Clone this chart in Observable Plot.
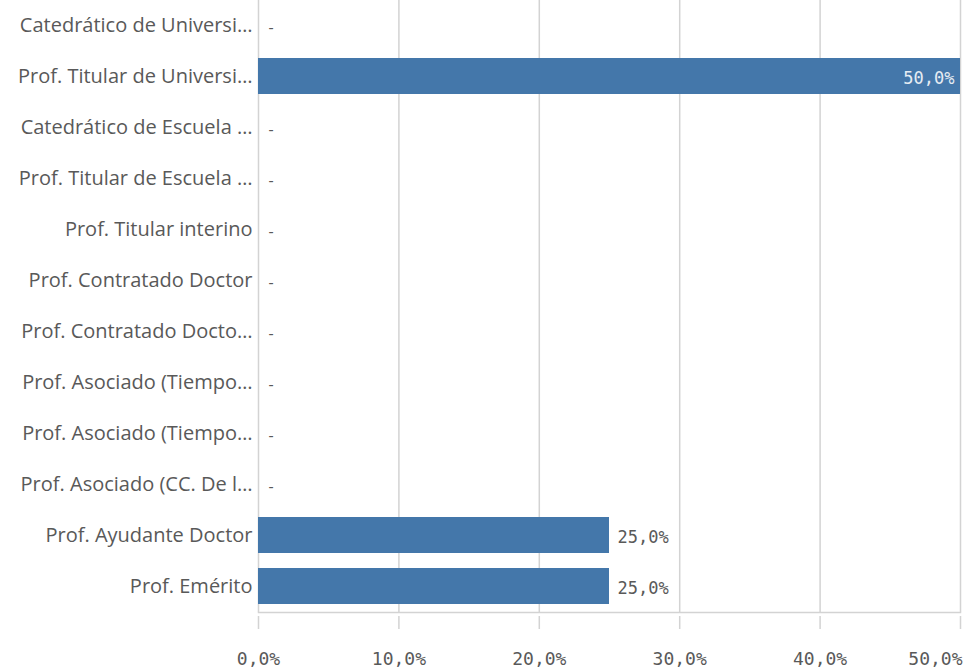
<!DOCTYPE html>
<html>
<head>
<meta charset="utf-8">
<script src="https://cdn.jsdelivr.net/npm/d3@7"></script>
<script src="https://cdn.jsdelivr.net/npm/@observablehq/plot@0.6"></script>
<style>
  html, body { margin: 0; padding: 0; background: #fff; }
  #chart svg { display: block; }
</style>
</head>
<body>
<div id="chart"></div>
<script>
const categories = [
  "Catedrático de Universi…",
  "Prof. Titular de Universi…",
  "Catedrático de Escuela …",
  "Prof. Titular de Escuela …",
  "Prof. Titular interino",
  "Prof. Contratado Doctor",
  "Prof. Contratado Docto…",
  "Prof. Asociado (Tiempo…",
  "Prof. Asociado (Tiempo…",
  "Prof. Asociado (CC. De l…",
  "Prof. Ayudante Doctor",
  "Prof. Emérito"
];
const values = [0, 0.5, 0, 0, 0, 0, 0, 0, 0, 0, 0.25, 0.25];
const xTicks = [0, 0.1, 0.2, 0.3, 0.4, 0.5];

const data = categories.map((c, i) => ({i, cat: c, v: values[i]}));
const fmt = v => d3.format(".1%")(v).replace(".", ",");
const maxV = 0.5;
const grey = "#595959";
const barColor = "#4477aa";
const monoFont = "DejaVu Sans Mono";

const chart = Plot.plot({
  width: 964,
  height: 672,
  marginLeft: 258,
  marginRight: 4,
  marginTop: 0,
  marginBottom: 60,
  style: {background: "#fff"},
  x: {domain: [0, maxV], ticks: xTicks},
  y: {domain: d3.range(categories.length), paddingInner: 0.29, paddingOuter: 0.145},
  marks: [
    Plot.ruleX(xTicks, {stroke: "#d3d3d3", strokeWidth: 1.5}),
    Plot.barX(data.filter(d => d.v > 0), {x: "v", y: "i", fill: barColor}),
    Plot.frame({anchor: "bottom", stroke: "#d3d3d3", strokeWidth: 1.5}),
    Plot.axisX({
      ticks: xTicks, tickFormat: () => "", tickSize: 13, dy: 4,
      stroke: "#d3d3d3", strokeWidth: 1.5, label: null
    }),
    Plot.axisX({
      ticks: xTicks.slice(0, -1), tickFormat: fmt, tickSize: 0, tickPadding: 40,
      fontSize: 18, fontFamily: monoFont, fill: grey, label: null
    }),
    Plot.axisX({
      ticks: xTicks.slice(-1), tickFormat: fmt, tickSize: 0, tickPadding: 40,
      textAnchor: "end", dx: 2,
      fontSize: 18, fontFamily: monoFont, fill: grey, label: null
    }),
    Plot.axisY({
      tickSize: 0, tickPadding: 6, fontSize: 20, fontFamily: "Open Sans",
      tickFormat: i => categories[i],
      fill: grey, label: null
    }),
    Plot.text(data.filter(d => d.v === 0), {
      x: 0, y: "i", text: () => "-", dx: 10, dy: 2, textAnchor: "start",
      fontSize: 16, fill: grey, fontFamily: "Open Sans"
    }),
    Plot.text(data.filter(d => d.v > 0 && d.v < maxV * 0.8), {
      x: "v", y: "i", text: d => fmt(d.v), dx: 8, dy: 2, textAnchor: "start",
      fontSize: 17, fill: grey, fontFamily: monoFont
    }),
    Plot.text(data.filter(d => d.v >= maxV * 0.8), {
      x: "v", y: "i", text: d => fmt(d.v), dx: -6, dy: 2, textAnchor: "end",
      fontSize: 17, fill: "#e6ecf3", fontFamily: monoFont
    })
  ]
});
document.getElementById("chart").append(chart);
</script>
</body>
</html>
